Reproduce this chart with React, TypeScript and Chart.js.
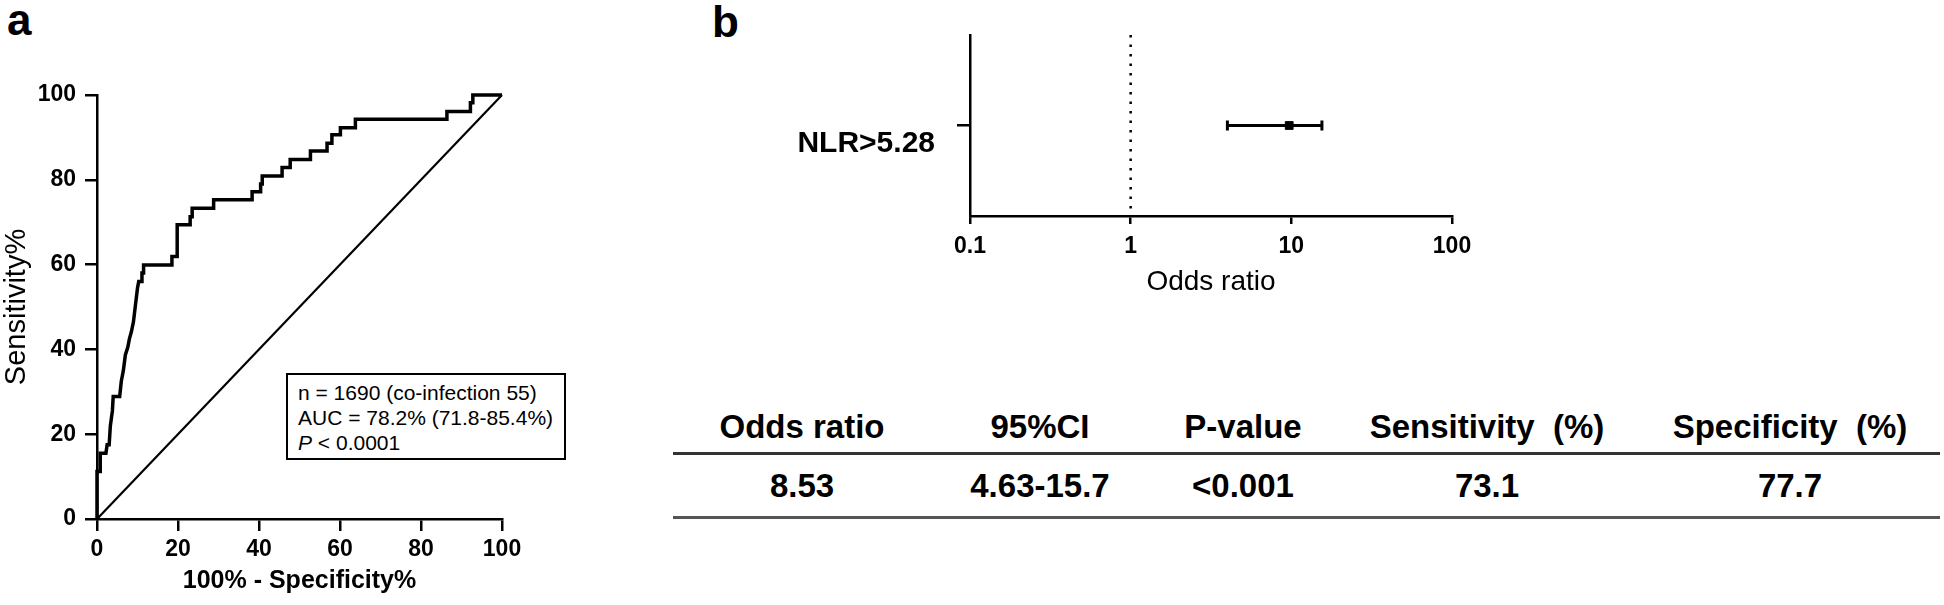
import React, { useEffect, useRef } from 'react';
import { Chart, registerables } from 'chart.js';

Chart.register(...registerables);

const FONT = "'Liberation Sans', Arial, Helvetica, sans-serif";

// ---------- Panel a: ROC curve ----------
const rocFpr = [
  0, 0, 0.8, 0.8, 2.2, 2.5, 3.0, 3.3, 3.8, 4.0, 5.6, 6.0, 6.5, 7.0, 7.6, 8.0, 8.5, 9.0, 9.5, 10.0,
  10.3, 11.0, 11.1, 11.5, 11.5, 18.5, 18.5, 19.8, 19.8, 23.0, 23.0, 23.5, 23.5, 28.8, 28.8, 38.3,
  38.3, 40.4, 40.4, 40.8, 40.8, 45.7, 45.7, 47.7, 47.7, 52.7, 52.7, 56.8, 56.8, 58.0, 58.0, 60.1,
  60.1, 63.8, 63.8, 86.4, 86.4, 92.2, 92.2, 92.8, 92.8, 100,
];
const rocSens = [
  0, 11.2, 11.2, 15.5, 15.5, 17.5, 17.5, 22.0, 25.5, 28.9, 28.9, 32.5, 35.0, 38.7, 40.5, 42.5, 44.2, 46.5, 50.5, 54.5,
  56.0, 56.0, 58.0, 58.0, 59.9, 59.9, 61.9, 61.9, 69.4, 69.4, 71.3, 71.3, 73.3, 73.3, 75.3, 75.3,
  77.2, 77.2, 79.0, 79.0, 80.9, 80.9, 82.9, 82.9, 84.8, 84.8, 86.8, 86.8, 88.6, 88.6, 90.6, 90.6,
  92.3, 92.3, 94.3, 94.3, 96.1, 96.1, 98.2, 98.2, 100, 100,
];
const refDiagX = [0, 100];
const refDiagY = [0, 100];
const rocTicks = [0, 20, 40, 60, 80, 100];
const legendN = 'n = 1690 (co-infection 55)';
const legendAuc = 'AUC = 78.2% (71.8-85.4%)';
const legendP = '< 0.0001';

// ---------- Panel b: forest plot ----------
const forestLabels = ['NLR>5.28'];
const forestOR = [9.7];
const forestLow = [4.0];
const forestHigh = [15.5];
const forestTicks = [0.1, 1, 10, 100];
const refValue = 1;

// ---------- Table ----------
const tableHeaders = ['Odds ratio', '95%CI', 'P-value', 'Sensitivity  (%)', 'Specificity  (%)'];
const tableValues = ['8.53', '4.63-15.7', '<0.001', '73.1', '77.7'];
const tableColCenters = [802, 1040, 1243, 1487, 1790];

const refLinePlugin = {
  id: 'refLine',
  beforeDatasetsDraw(chart: any) {
    const { ctx, chartArea, scales } = chart;
    const x = scales.x.getPixelForValue(refValue);
    ctx.save();
    ctx.strokeStyle = '#000';
    ctx.lineWidth = 2.5;
    ctx.setLineDash([2.5, 7]);
    ctx.beginPath();
    ctx.moveTo(x, chartArea.top);
    ctx.lineTo(x, chartArea.bottom);
    ctx.stroke();
    ctx.restore();
  },
};

function RocChart() {
  const ref = useRef<HTMLCanvasElement>(null);
  useEffect(() => {
    const chart = new Chart(ref.current as HTMLCanvasElement, {
      type: 'line',
      data: {
        datasets: [
          {
            data: rocFpr.map((x, i) => ({ x, y: rocSens[i] })),
            borderColor: '#000',
            borderWidth: 3.5,
            pointRadius: 0,
            tension: 0,
            clip: false,
            borderJoinStyle: 'miter',
          } as any,
          {
            data: refDiagX.map((x, i) => ({ x, y: refDiagY[i] })),
            borderColor: '#000',
            borderWidth: 2.2,
            pointRadius: 0,
            tension: 0,
            clip: false,
          } as any,
        ],
      },
      options: {
        animation: false,
        responsive: false,
        events: [],
        layout: { padding: { top: 35, right: 38, left: 0, bottom: 0 } },
        plugins: { legend: { display: false }, tooltip: { enabled: false } },
        scales: {
          x: {
            type: 'linear',
            min: 0,
            max: 100,
            afterBuildTicks: (s: any) => {
              s.ticks = rocTicks.map((v) => ({ value: v }));
            },
            afterFit: (s: any) => {
              s.height = 81;
            },
            border: { display: true, color: '#000', width: 2.5 },
            grid: { display: true, drawOnChartArea: false, drawTicks: true, tickLength: 12, color: '#000', lineWidth: 2.5 },
            ticks: { color: '#000', font: { family: FONT, size: 23, weight: 'bold' }, padding: 5, maxRotation: 0, autoSkip: false },
            title: {
              display: true,
              text: '100% - Specificity%',
              color: '#000',
              font: { family: FONT, size: 25, weight: 'bold' },
              padding: { top: 0, bottom: 4 },
            },
          },
          y: {
            type: 'linear',
            min: 0,
            max: 100,
            afterBuildTicks: (s: any) => {
              s.ticks = rocTicks.map((v) => ({ value: v }));
            },
            afterFit: (s: any) => {
              s.width = 97;
            },
            border: { display: true, color: '#000', width: 2.5 },
            grid: { display: true, drawOnChartArea: false, drawTicks: true, tickLength: 12, color: '#000', lineWidth: 2.5 },
            ticks: { color: '#000', font: { family: FONT, size: 23, weight: 'bold' }, padding: 9, autoSkip: false },
            title: {
              display: true,
              text: 'Sensitivity%',
              color: '#000',
              font: { family: FONT, size: 29, weight: 'normal' },
              padding: { top: 0, bottom: 0 },
            },
          },
        },
      } as any,
    });
    return () => chart.destroy();
  }, []);
  return <canvas ref={ref} width={540} height={540} />;
}

function ForestChart() {
  const ref = useRef<HTMLCanvasElement>(null);
  useEffect(() => {
    const whiskers = forestLabels.map((lab, i) => ({
      data: [
        { x: forestLow[i], y: lab },
        { x: forestHigh[i], y: lab },
      ],
      borderColor: '#000',
      borderWidth: 3,
      pointStyle: 'line',
      pointRotation: 90,
      pointRadius: 5,
      pointBorderWidth: 3,
      pointBorderColor: '#000',
      clip: false,
    }));
    const centers = {
      data: forestLabels.map((lab, i) => ({ x: forestOR[i], y: lab })),
      showLine: false,
      pointStyle: 'rect',
      pointRadius: 5.5,
      pointBackgroundColor: '#000',
      pointBorderColor: '#000',
      pointBorderWidth: 1,
      clip: false,
    };
    const chart = new Chart(ref.current as HTMLCanvasElement, {
      type: 'line',
      data: { datasets: [...whiskers, centers] as any },
      options: {
        animation: false,
        responsive: false,
        events: [],
        layout: { padding: { top: 35, right: 48, left: 0, bottom: 0 } },
        plugins: { legend: { display: false }, tooltip: { enabled: false } },
        scales: {
          x: {
            type: 'logarithmic',
            min: 0.1,
            max: 100,
            afterBuildTicks: (s: any) => {
              s.ticks = forestTicks.map((v) => ({ value: v }));
            },
            afterFit: (s: any) => {
              s.height = 104;
            },
            border: { display: true, color: '#000', width: 2.5 },
            grid: { display: true, drawOnChartArea: false, drawTicks: true, tickLength: 8, color: '#000', lineWidth: 2.5 },
            ticks: {
              color: '#000',
              font: { family: FONT, size: 23, weight: 'bold' },
              padding: 9,
              maxRotation: 0,
              autoSkip: false,
              callback: (v: any) => String(v),
            },
            title: {
              display: true,
              text: 'Odds ratio',
              color: '#000',
              font: { family: FONT, size: 28, weight: 'normal' },
              padding: { top: 0, bottom: 21 },
            },
          },
          y: {
            type: 'category',
            labels: forestLabels,
            offset: true,
            afterFit: (s: any) => {
              s.width = 270;
              s.paddingTop = 0;
              s.paddingBottom = 0;
            },
            border: { display: true, color: '#000', width: 2.5 },
            grid: { display: true, offset: false, drawOnChartArea: false, drawTicks: true, tickLength: 13, color: '#000', lineWidth: 2.5 },
            ticks: {
              color: '#000',
              font: { family: FONT, size: 30, weight: 'bold', lineHeight: 1.2 },
              padding: 22,
              autoSkip: false,
              callback: function (this: any, v: any) {
                return ['', this.getLabelForValue(v)];
              },
            },
          },
        },
      } as any,
      plugins: [refLinePlugin],
    });
    return () => chart.destroy();
  }, []);
  return <canvas ref={ref} width={800} height={320} />;
}

export default function App() {
  const abs = (l: number, t: number): React.CSSProperties => ({ position: 'absolute', left: l, top: t });
  return (
    <div
      style={{
        position: 'absolute',
        left: 0,
        top: 0,
        width: 1944,
        height: 605,
        background: '#fff',
        fontFamily: FONT,
        color: '#000',
        overflow: 'hidden',
      }}
    >
      <div style={{ ...abs(7, -2), fontSize: 44, fontWeight: 'bold', lineHeight: 1 }}>a</div>
      <div style={{ ...abs(712, 0), fontSize: 44, fontWeight: 'bold', lineHeight: 1 }}>b</div>

      <div style={abs(0, 60)}>
        <RocChart />
      </div>

      <div
        style={{
          ...abs(286, 373),
          width: 280,
          height: 87,
          boxSizing: 'border-box',
          border: '2.5px solid #000',
          paddingLeft: 10,
          paddingTop: 5,
          fontSize: 21,
          lineHeight: '25px',
          whiteSpace: 'pre',
          background: '#fff',
        }}
      >
        <div>{legendN}</div>
        <div>{legendAuc}</div>
        <div>
          <i>P</i> {legendP}
        </div>
      </div>

      <div style={abs(700, 0)}>
        <ForestChart />
      </div>

      {tableHeaders.map((h, i) => (
        <div
          key={'h' + i}
          style={{
            ...abs(tableColCenters[i] - 160, 426 - 16.5),
            width: 320,
            textAlign: 'center',
            fontSize: 33,
            fontWeight: 'bold',
            lineHeight: '33px',
            whiteSpace: 'pre',
          }}
        >
          {h}
        </div>
      ))}
      <div style={{ ...abs(673, 451.5), width: 1267, height: 3, background: '#333' }} />
      {tableValues.map((v, i) => (
        <div
          key={'v' + i}
          style={{
            ...abs(tableColCenters[i] - 160, 485.5 - 16.5),
            width: 320,
            textAlign: 'center',
            fontSize: 33,
            fontWeight: 'bold',
            lineHeight: '33px',
            whiteSpace: 'pre',
          }}
        >
          {v}
        </div>
      ))}
      <div style={{ ...abs(673, 515.5), width: 1267, height: 3, background: '#555' }} />
    </div>
  );
}
